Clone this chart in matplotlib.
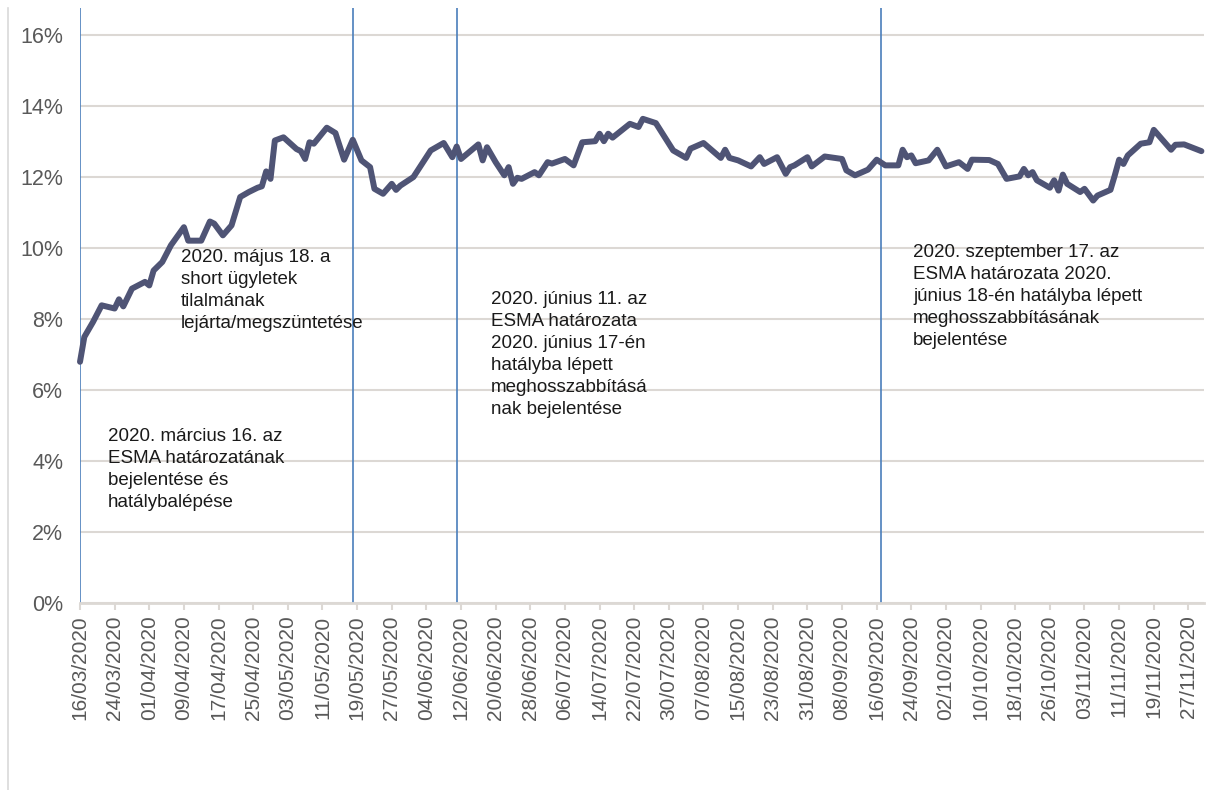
import numpy as np
import pandas as pd
import matplotlib
matplotlib.use("Agg")
import matplotlib.pyplot as plt
import matplotlib.dates as mdates
from matplotlib.lines import Line2D

plt.rcParams['font.family'] = ['Liberation Sans', 'DejaVu Sans']

# data: days since 16/03/2020 and the ratio in %
start = pd.Timestamp("2020-03-16")
day_offsets = [0, 1, 3, 5, 8, 9, 10, 12, 15, 16, 17, 19, 21, 24, 25, 28, 30, 31, 33, 35,
               37, 39, 41, 42, 43, 44, 45, 47, 50, 51, 52, 53, 54, 57, 59, 61, 63, 65, 67, 68,
               70, 72, 73, 74, 77, 81, 84, 86, 87, 88, 92, 93, 94, 96, 98, 99, 100, 101, 102, 105,
               106, 108, 109, 112, 114, 116, 119, 120, 121, 122, 123, 127, 129, 130, 133, 136, 137, 140, 141, 144,
               148, 149, 150, 152, 155, 157, 158, 161, 163, 164, 165, 168, 169, 172, 176, 177, 179, 182, 184, 186,
               189, 190, 191, 192, 193, 196, 198, 200, 203, 205, 206, 210, 212, 214, 217, 218, 219, 220, 221, 224,
               225, 226, 227, 228, 231, 232, 234, 235, 238, 239, 240, 241, 242, 245, 247, 248, 252, 253, 255, 259]
values = [6.79, 7.49, 7.91, 8.38, 8.29, 8.55, 8.35, 8.85, 9.04, 8.94, 9.36, 9.60, 10.07, 10.58, 10.20, 10.20, 10.74, 10.68, 10.35, 10.63,
          11.43, 11.57, 11.69, 11.73, 12.15, 11.94, 13.02, 13.11, 12.78, 12.72, 12.50, 12.97, 12.93, 13.38, 13.23, 12.48, 13.04, 12.46, 12.27, 11.66,
          11.52, 11.80, 11.63, 11.75, 11.99, 12.74, 12.95, 12.55, 12.85, 12.50, 12.91, 12.46, 12.83, 12.41, 12.04, 12.27, 11.80, 11.97, 11.94, 12.13,
          12.04, 12.41, 12.37, 12.50, 12.32, 12.97, 13.00, 13.21, 13.00, 13.21, 13.10, 13.49, 13.40, 13.63, 13.51, 12.93, 12.74, 12.53, 12.79, 12.95,
          12.53, 12.76, 12.53, 12.46, 12.29, 12.55, 12.36, 12.55, 12.08, 12.27, 12.32, 12.55, 12.29, 12.57, 12.50, 12.18, 12.04, 12.20, 12.48, 12.32,
          12.32, 12.76, 12.55, 12.60, 12.38, 12.46, 12.76, 12.29, 12.41, 12.22, 12.48, 12.47, 12.36, 11.94, 12.01, 12.22, 12.04, 12.13, 11.90, 11.69,
          11.90, 11.61, 12.06, 11.80, 11.57, 11.66, 11.33, 11.47, 11.63, 12.04, 12.48, 12.36, 12.60, 12.93, 12.97, 13.32, 12.76, 12.90, 12.91, 12.72]

event_dates = ["2020-03-16", "2020-05-18", "2020-06-11", "2020-09-17"]
event_texts = [
    "2020. március 16. az\nESMA határozatának\nbejelentése és\nhatálybalépése",
    "2020. május 18. a\nshort ügyletek\ntilalmának\nlejárta/megszüntetése",
    "2020. június 11. az\nESMA határozata\n2020. június 17-én\nhatályba lépett\nmeghosszabbításá\nnak bejelentése",
    "2020. szeptember 17. az\nESMA határozata 2020.\njúnius 18-én hatályba lépett\nmeghosszabbításának\nbejelentése",
]
# text anchor points in pixels (left, top)
text_pos = [(108, 428), (181, 249), (491, 291), (913, 244)]

dates = start + pd.to_timedelta(day_offsets, unit="D")

W, H = 1216, 790
fig = plt.figure(figsize=(W / 100, H / 100), dpi=100)
ax = fig.add_axes([80 / W, 1 - 603 / H, (1204 - 80) / W, (603 - 8) / H])

grid_col = "#dcd8d4"
label_col = "#595959"

ax.set_ylim(0, 16.75)
ax.set_yticks(np.arange(0, 17, 2))
ax.set_yticklabels([f"{v}%" for v in range(0, 17, 2)])
ax.yaxis.grid(True, color=grid_col, linewidth=1.5)
ax.set_axisbelow(True)

ax.set_xlim(start, start + pd.Timedelta(days=259.6))
ticks = pd.date_range(start, "2020-11-27", freq="8D")
ax.set_xticks(ticks)
ax.xaxis.set_major_formatter(mdates.DateFormatter("%d/%m/%Y"))
plt.setp(ax.get_xticklabels(), rotation=90)

for s in ["top", "right", "left"]:
    ax.spines[s].set_visible(False)
ax.spines["bottom"].set_color(grid_col)
ax.spines["bottom"].set_linewidth(2)

ax.tick_params(axis="y", length=0, pad=12, labelsize=15.5, labelcolor=label_col)
ax.tick_params(axis="x", length=5, width=1.5, color=grid_col, pad=4,
               labelsize=15, labelcolor=label_col)

for d in event_dates:
    ax.axvline(pd.Timestamp(d), color="#4a7ebb", linewidth=1.2, zorder=2)

ax.plot(dates, values, color="#4f5475", linewidth=4.3, solid_joinstyle="round",
        solid_capstyle="round", zorder=3, clip_on=False)

for (px, py), t in zip(text_pos, event_texts):
    fig.text(px / W, 1 - py / H, t, ha="left", va="top", fontsize=13.5,
             color="#1a1a1a", linespacing=1.38)

# chart frame on the left
fig.add_artist(Line2D([8 / W, 8 / W], [0, 1 - 8 / H], color="#d9d9d9", linewidth=1.2))

fig.savefig("out.png", dpi=100)
